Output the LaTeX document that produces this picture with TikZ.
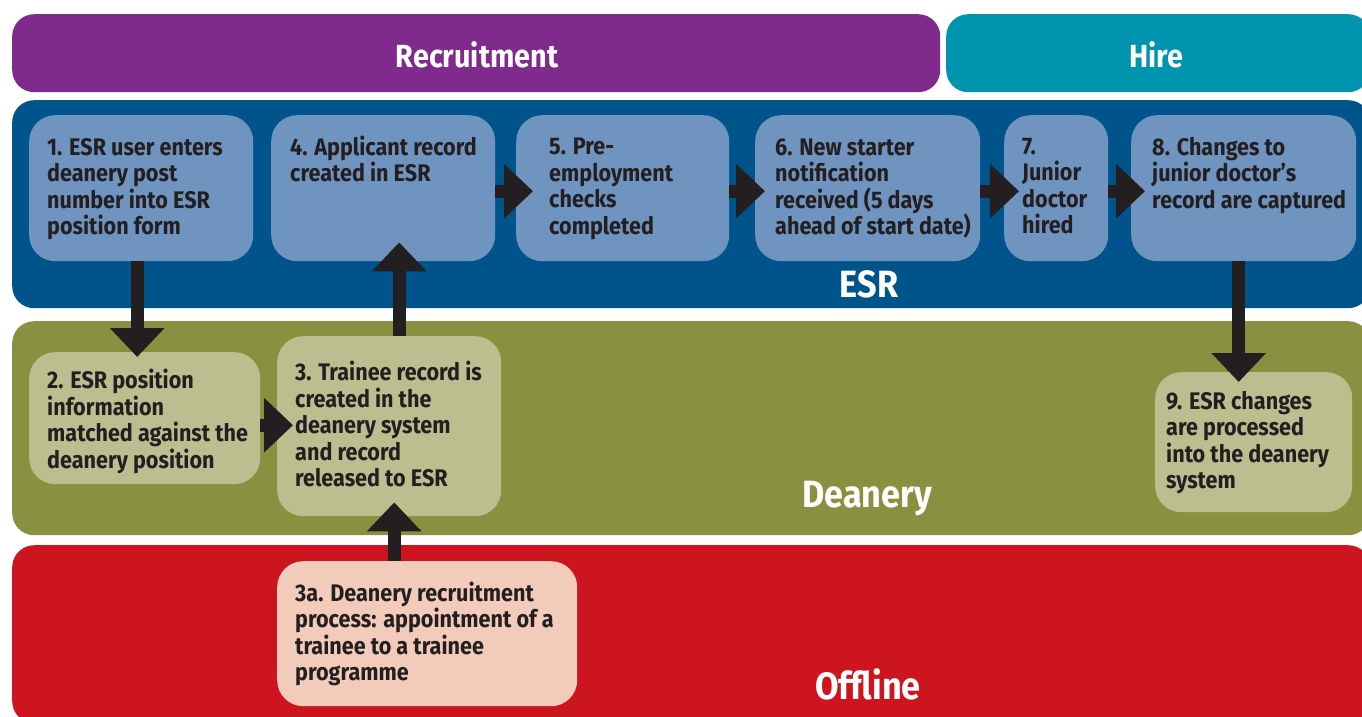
\documentclass[tikz,border=0pt]{standalone}
\usepackage{fontspec}
\setmainfont{Fira Sans}[FakeStretch=0.9]
\usetikzlibrary{arrows.meta}

\definecolor{recruitcol}{RGB}{127,42,140}
\definecolor{hirecol}{RGB}{0,148,174}
\definecolor{esrcol}{RGB}{0,84,140}
\definecolor{esrbox}{RGB}{111,148,192}
\definecolor{deancol}{RGB}{137,145,64}
\definecolor{deanbox}{RGB}{188,190,143}
\definecolor{offcol}{RGB}{204,21,30}
\definecolor{offbox}{RGB}{242,203,186}
\definecolor{ink}{RGB}{35,31,32}

\tikzset{
  band/.style={rounded corners=22pt, anchor=north west, inner sep=0pt, draw=none},
  headtext/.style={anchor=base, inner sep=0pt, text=white, font=\fontsize{32}{36}\selectfont\bfseries},
  lanetext/.style={anchor=base, inner sep=0pt, text=white, font=\fontsize{38}{42}\selectfont\bfseries},
  stepbox/.style={rounded corners=26pt, anchor=north west, inner sep=0pt, draw=none},
  steptext/.style={anchor=north west, align=left, inner sep=0pt, text=ink,
    font=\fontsize{24}{26.5}\selectfont\bfseries},
  flow/.style={draw=ink, line width=13pt, -{Triangle[width=53pt,length=29pt]}},
}

\begin{document}
\begin{tikzpicture}[x=1pt,y=-1pt]
\useasboundingbox (0,0) rectangle (1362,717);
\clip (0,0) rectangle (1362,717);

% phase bands
\node[band, fill=recruitcol, minimum width=928pt, minimum height=78pt] (recruit) at (12,14) {};
\node[headtext] (recruitlbl) at (477,67) {Recruitment};
\node[band, fill=hirecol, minimum width=424pt, minimum height=78pt] (hire) at (946,14) {};
\node[headtext] (hirelbl) at (1156,67) {Hire};

% system swimlanes
\node[band, fill=esrcol, minimum width=1358pt, minimum height=208pt] (esr) at (12,100) {};
\node[lanetext] (esrlbl) at (869,297) {ESR};
\node[band, fill=deancol, minimum width=1358pt, minimum height=214pt] (dean) at (12,321) {};
\node[lanetext] (deanlbl) at (867,507) {Deanery};
\node[band, fill=offcol, minimum width=1358pt, minimum height=178pt] (off) at (12,545) {};
\node[lanetext] (offlbl) at (868,699) {Offline};

% ESR steps
\node[stepbox, fill=esrbox, minimum width=224pt, minimum height=146pt] (b1) at (29,115) {};
\node[stepbox, fill=esrbox, minimum width=224pt, minimum height=146pt] (b4) at (271,115) {};
\node[stepbox, fill=esrbox, minimum width=213pt, minimum height=146pt] (b5) at (516,115) {};
\node[stepbox, fill=esrbox, minimum width=225pt, minimum height=146pt] (b6) at (755,115) {};
\node[stepbox, fill=esrbox, minimum width=104pt, minimum height=146pt] (b7) at (1004,115) {};
\node[stepbox, fill=esrbox, minimum width=225pt, minimum height=146pt] (b8) at (1131,115) {};

% Deanery steps
\node[stepbox, fill=deanbox, minimum width=231pt, minimum height=132pt] (b2) at (29,352) {};
\node[stepbox, fill=deanbox, minimum width=224pt, minimum height=180pt] (b3) at (277,336) {};
\node[stepbox, fill=deanbox, minimum width=197pt, minimum height=140pt] (b9) at (1155,372) {};

% Offline step
\node[stepbox, fill=offbox, minimum width=300pt, minimum height=145pt] (b3a) at (277,561) {};

% step texts
\node[steptext] (t1) at (47,138) {1. ESR user enters\\deanery post\\number into ESR\\position form};
\node[steptext] (t4) at (290,135.5) {4. Applicant record\\created in ESR};
\node[steptext] (t5) at (549,138) {5. Pre-\\employment\\checks\\completed};
\node[steptext] (t6) at (775,138.5) {6. New starter\\notification\\received (5 days\\ahead of start date)};
\node[steptext] (t7) at (1022,138) {7.\\Junior\\doctor\\hired};
\node[steptext] (t8) at (1152,137) {8. Changes to\\junior doctor’s\\record are captured};
\node[steptext] (t2) at (47,369) {2. ESR position\\information\\matched against the\\deanery position};
\node[steptext] (t3) at (295,361) {3. Trainee record is\\created in the\\deanery system\\and record\\released to ESR};
\node[steptext] (t9) at (1166,391) {9. ESR changes\\are processed\\into the deanery\\system};
\node[steptext] (t3a) at (295,581.5) {3a. Deanery recruitment\\process: appointment of a\\trainee to a trainee\\programme};

% connectors
\draw[flow, shorten >=-5pt] ([xshift=-4pt]b1.south) -- ([xshift=-4pt]b1.south |- b2.north);
\draw[flow, shorten >=-16pt] ([yshift=-7pt]b2.east) -- ([yshift=-7pt]b2.east -| b3.west);
\draw[flow, shorten >=-19pt] ([xshift=10pt]b3.north) -- ([xshift=10pt]b3.north |- b4.south);
\draw[flow, shorten >=-14pt] ([xshift=5pt]b3a.north -| b3.south) -- ([xshift=5pt]b3.south);
\draw[flow, shorten >=-17pt] ([yshift=-3pt]b4.east) -- ([yshift=-3pt]b4.east -| b5.west);
\draw[flow, shorten >=-10pt] ([yshift=-3pt]b5.east) -- ([yshift=-3pt]b5.east -| b6.west);
\draw[flow, shorten >=-15pt] ([yshift=-3pt]b6.east) -- ([yshift=-3pt]b6.east -| b7.west);
\draw[flow, shorten >=-14pt] ([yshift=-3pt]b7.east) -- ([yshift=-3pt]b7.east -| b8.west);
\draw[flow, shorten >=-10pt] ([xshift=-5pt]b8.south) -- ([xshift=-5pt]b8.south |- b9.north);
\end{tikzpicture}
\end{document}
